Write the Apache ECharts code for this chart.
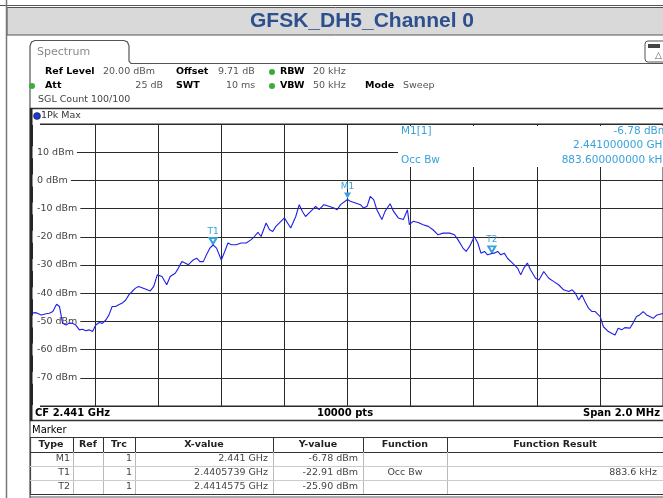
<!DOCTYPE html>
<html><head><meta charset="utf-8">
<script src="https://cdn.jsdelivr.net/npm/echarts@6/dist/echarts.min.js"></script>
<style>html,body{margin:0;padding:0;background:#fff;}#c{width:663px;height:498px;}</style>
</head><body><div id="c"></div>
<script>
// Frequency offset from CF 2.441 GHz, in kHz (span 2.0 MHz)
const freqOffsetKHz = [-1000,-987,-971,-955,-945,-934,-922,-913,-908,-903,-892,-882,-871,-861,-850,-840,-829,-819,-808,-798,-787,-777,-766,-756,-746,-735,-725,-714,-703,-693,-683,-672,-662,-641,-625,-614,-603,-588,-573,-562,-546,-536,-525,-515,-504,-489,-478,-468,-457,-447,-436,-426.1,-415,-400,-389,-379,-368,-353,-337,-321,-305,-295,-284,-274,-258,-247,-237,-227,-211,-200,-190,-180,-164,-153,-143,-133,-122,-111,-101,-90,-75,-59,-43,-33,-22,0,9,25,41,51,62,72,83,93,109,119,135,146,161,177,190,196,208,224,240,256,271,287,303,324,339,350,366,376,387,402,413,423,434,444,457.5,465,476,486,497,507,523,539,549,559,570,580,596,607,622,638,654,669,685,701,712,722,733,743,753,764,775,785,801,811,827,837,848,858,869,879,895,905,916,926,937,948,958,969,981,1000];
// Trace 1Pk Max level, dBm
const levelDbm = [-47.0,-46.9,-47.7,-47.3,-47.1,-46.5,-43.9,-44.7,-47.7,-50.7,-51.3,-50.6,-50.7,-51.3,-53.0,-52.8,-53.3,-53.0,-53.6,-51.3,-50.4,-50.7,-49.5,-47.7,-44.7,-44.7,-44.1,-43.5,-42.4,-40.6,-39.4,-38.2,-37.6,-38.5,-39.2,-37.6,-33.5,-34.1,-37.0,-34.1,-32.9,-31.1,-28.8,-29.3,-29.9,-28.2,-27.6,-28.8,-28.8,-26.4,-24.0,-22.91,-24.0,-28.2,-25.2,-22.2,-22.8,-22.8,-22.2,-22.2,-21.0,-19.9,-18.4,-19.9,-15.1,-17.5,-18.1,-16.3,-14.5,-13.3,-15.1,-16.9,-12.8,-8.6,-11.0,-12.8,-11.6,-10.4,-9.2,-10.4,-8.6,-9.2,-9.8,-10.4,-8.6,-6.78,-7.4,-8.0,-8.6,-9.8,-9.2,-5.7,-6.8,-10.4,-13.9,-11.0,-8.3,-11.0,-13.3,-13.9,-10.4,-15.7,-14.5,-14.9,-15.7,-16.3,-17.5,-19.3,-18.7,-18.7,-19.3,-21.0,-24.0,-25.2,-23.4,-19.9,-22.2,-25.8,-25.2,-26.4,-25.90,-25.8,-25.2,-26.4,-25.8,-27.6,-29.3,-31.1,-33.5,-31.1,-29.3,-31.7,-34.7,-35.3,-32.3,-34.7,-35.9,-37.0,-38.8,-39.4,-38.8,-40.0,-42.4,-40.6,-43.0,-45.3,-46.5,-46.5,-48.3,-51.9,-53.6,-54.2,-54.8,-52.4,-53.0,-52.2,-52.4,-50.6,-48.3,-47.7,-46.5,-47.7,-48.3,-48.9,-47.7,-47.2];
const markerNames = ['M1','T1','T2'];
const markerOffsetKHz = [0,-426.1,457.5];
const markerLevel = [-6.78,-22.91,-25.90];
const markerSymbols = ['triangle','emptyTriangle','emptyTriangle'];
const tableRows = [
  ['M1','','1','2.441 GHz','-6.78 dBm','',''],
  ['T1','','1','2.4405739 GHz','-22.91 dBm','Occ Bw','883.6 kHz'],
  ['T2','','1','2.4414575 GHz','-25.90 dBm','','']
];
const tableHeader = ['Type','Ref','Trc','X-value','Y-value','Function','Function Result'];

const F = "'DejaVu Sans', sans-serif";
const CY = '#37a2da';
const chart = echarts.init(document.getElementById('c'), null, {renderer:'canvas'});

function txt(x,y,t,o){o=o||{};return {type:'text',x:x,y:y,z:o.z||20,silent:true,style:{text:t,font:(o.bold?'bold ':'')+(o.size||10)+'px '+(o.family||F),fill:o.color||'#000',textAlign:o.align||'left',align:o.align||'left',textVerticalAlign:'middle',verticalAlign:'middle'}};}
function ln(x1,y1,x2,y2,c,w){return {type:'line',z:15,silent:true,shape:{x1:x1,y1:y1,x2:x2,y2:y2},style:{stroke:c||'#444',lineWidth:w||1}};}

const g = [];
// outer frame and title bar
g.push(ln(0,5.5,663,5.5,'#555',1));
g.push(ln(6.5,0,6.5,498,'#777',1.5));
g.push({type:'rect',z:10,silent:true,shape:{x:7,y:7.5,width:660,height:27.5},style:{fill:'#d9d9d9',stroke:'#555',lineWidth:1}});
g.push(txt(362,21.5,'GFSK_DH5_Channel 0',{bold:true,size:21,family:"'Liberation Sans', Arial, sans-serif",color:'#2d4f8e',align:'center'}));
// spectrum tab + window
g.push({type:'polyline',z:15,silent:true,shape:{points:[[30,498],[30,46],[31.5,42],[35,40.5],[124,40.5],[127.5,42],[129,46],[129,61],[131,63.5],[668,63.5]]},style:{stroke:'#555',lineWidth:1.2,fill:null}});
g.push(txt(37,52,'Spectrum',{size:11,color:'#8a8a8a'}));
g.push({type:'rect',z:15,silent:true,shape:{x:645,y:41,width:25,height:21,r:3},style:{fill:'#fff',stroke:'#555',lineWidth:1}});
g.push({type:'rect',z:16,silent:true,shape:{x:648,y:44,width:12,height:4},style:{fill:'#444'}});
g.push(txt(655,56,'△',{size:9,color:'#555'}));
// setting lines
g.push(txt(45,72,'Ref Level',{bold:true,size:9.5}));
g.push(txt(103,72,'20.00 dBm',{size:9.5,color:'#555'}));
g.push(txt(176,72,'Offset',{bold:true,size:9.5}));
g.push(txt(218,72,'9.71 dB',{size:9.5,color:'#555'}));
g.push({type:'circle',z:16,silent:true,shape:{cx:272,cy:72,r:3},style:{fill:'#3caa3c'}});
g.push(txt(280,72,'RBW',{bold:true,size:9.5}));
g.push(txt(313,72,'20 kHz',{size:9.5,color:'#555'}));
g.push({type:'circle',z:16,silent:true,shape:{cx:32,cy:86,r:3},style:{fill:'#3caa3c'}});
g.push(txt(45,86,'Att',{bold:true,size:9.5}));
g.push(txt(163,86,'25 dB',{size:9.5,color:'#555',align:'right'}));
g.push(txt(176,86,'SWT',{bold:true,size:9.5}));
g.push(txt(226,86,'10 ms',{size:9.5,color:'#555'}));
g.push({type:'circle',z:16,silent:true,shape:{cx:272,cy:86,r:3},style:{fill:'#3caa3c'}});
g.push(txt(280,86,'VBW',{bold:true,size:9.5}));
g.push(txt(313,86,'50 kHz',{size:9.5,color:'#555'}));
g.push(txt(365,86,'Mode',{bold:true,size:9.5}));
g.push(txt(403,86,'Sweep',{size:9.5,color:'#555'}));
g.push(txt(38,100,'SGL Count 100/100',{size:9.5,color:'#444'}));
// plot frame
g.push({type:'rect',z:15,silent:true,shape:{x:30.5,y:108.5,width:640,height:312},style:{fill:null,stroke:'#333',lineWidth:1.5}});
g.push(ln(31.5,108,31.5,421,'#222',2));
g.push({type:'circle',z:16,silent:true,shape:{cx:37,cy:116,r:3.5},style:{fill:'#2236d8',stroke:'#111',lineWidth:0.5}});
g.push(txt(41,116,'1Pk Max',{size:9.5,color:'#333'}));
// marker info box
g.push({type:'rect',z:12,silent:true,shape:{x:398,y:126,width:272,height:41},style:{fill:'#fff'}});
g.push(txt(401,131,'M1[1]',{size:10.5,color:CY}));
g.push(txt(668,131,'-6.78 dBm',{size:10.5,color:CY,align:'right'}));
g.push(txt(668,145,'2.441000000 GHz',{size:10.5,color:CY,align:'right'}));
g.push(txt(401,160,'Occ Bw',{size:10.5,color:CY}));
g.push(txt(668,160,'883.600000000 kHz',{size:10.5,color:CY,align:'right'}));
// bottom strip
g.push(txt(35,413,'CF 2.441 GHz',{bold:true,size:10}));
g.push(txt(345,413,'10000 pts',{bold:true,size:10,align:'center'}));
g.push(txt(660,413,'Span 2.0 MHz',{bold:true,size:10,align:'right'}));
// marker table
g.push(txt(32,430,'Marker',{size:10}));
const colX = [30,73,103,135,273,363,447,670];
g.push({type:'rect',z:14,silent:true,shape:{x:30.5,y:437.5,width:640,height:57},style:{fill:'#fff',stroke:'#333',lineWidth:1.2}});
g.push(ln(30,452.5,670,452.5,'#333',1));
for(let i=1;i<colX.length-1;i++){g.push(ln(colX[i]+0.5,437,colX[i]+0.5,452,'#333',1));g.push(ln(colX[i]+0.5,452,colX[i]+0.5,494,'#bbb',1));}
g.push(ln(30,466.5,670,466.5,'#ccc',1));
g.push(ln(30,480.5,670,480.5,'#ccc',1));
const hdrCx = [51,88,119,204,318,405,555];
tableHeader.forEach((h,i)=>g.push(txt(hdrCx[i],445,h,{bold:true,size:9.5,align:'center',color:'#222'})));
const rightX = [70,100,132,268,358,null,657];
tableRows.forEach((r,ri)=>{const y=459+ri*14;r.forEach((c,ci)=>{if(!c)return;if(ci===5)g.push(txt(405,y,c,{size:9.5,color:'#444',align:'center'}));else g.push(txt(rightX[ci],y,c,{size:9.5,color:'#444',align:'right'}));});});
g.push(ln(30,497,670,497,'#555',1));

const option = {
  animation:false,
  backgroundColor:'#fff',
  grid:{left:32,top:124,width:636,height:282,show:true,borderColor:'#222',borderWidth:1,backgroundColor:'#fff'},
  xAxis:{type:'value',min:-1000,max:1000,interval:200,z:0,axisLine:{show:false},axisTick:{show:false},axisLabel:{show:false},splitLine:{show:true,lineStyle:{color:'#2a2a2a',width:1}}},
  yAxis:{type:'value',min:-80,max:20,interval:10,z:0,axisLine:{show:false},axisTick:{show:false},
    splitLine:{show:true,lineStyle:{color:'#2a2a2a',width:1}},
    axisLabel:{inside:true,margin:0,color:'#444',fontFamily:F,fontSize:9.5,backgroundColor:'#fff',padding:[1,3,1,5],
      formatter:v=>(v===20||v===-80)?'':(v+' dBm')}},
  series:[{type:'line',data:freqOffsetKHz.map((f,i)=>[f,levelDbm[i]]),showSymbol:false,symbol:'none',
    lineStyle:{color:'#1e1ee6',width:1.1},z:5,
    markPoint:{symbolRotate:180,symbolSize:[7,6],symbolOffset:[0,-4],
      itemStyle:{color:CY},
      label:{show:true,position:'top',distance:1,formatter:'{b}',color:CY,fontFamily:F,fontSize:9},
      data:markerNames.map((n,i)=>({name:n,symbol:markerSymbols[i],coord:[markerOffsetKHz[i],markerLevel[i]]}))}}],
  graphic:{elements:g}
};
chart.setOption(option);
</script></body></html>
